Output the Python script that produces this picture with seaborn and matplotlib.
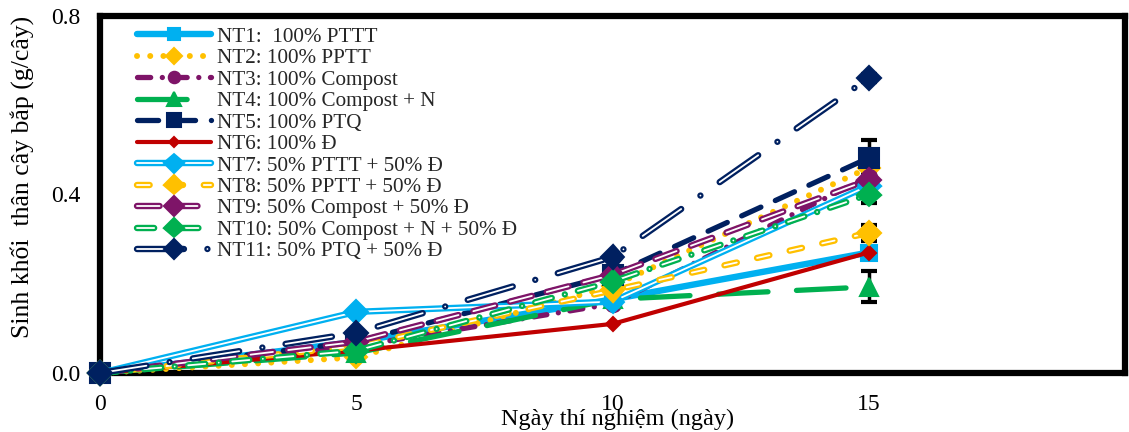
import numpy as np
import pandas as pd
import seaborn as sns
import matplotlib.pyplot as plt
import matplotlib.patheffects as pe
from matplotlib.ticker import FormatStrFormatter

# số liệu
days = [0, 5, 10, 15]
nt1 = [0, 0.07, 0.165, 0.27]
nt2 = [0, 0.035, 0.195, 0.46]
nt3 = [0, 0.06, 0.155, 0.44]
nt4 = [0, 0.045, 0.165, 0.193]
nt5 = [0, 0.07, 0.22, 0.482]
nt6 = [0, 0.05, 0.11, 0.27]
nt7 = [0, 0.137, 0.16, 0.42]
nt8 = [0, 0.06, 0.185, 0.314]
nt9 = [0, 0.07, 0.22, 0.433]
nt10 = [0, 0.05, 0.205, 0.40]
nt11 = [0, 0.09, 0.26, 0.661]
series = [nt1, nt2, nt3, nt4, nt5, nt6, nt7, nt8, nt9, nt10, nt11]

# sai số ở ngày 15
err15 = [0.01, 0.012, 0.01, 0.035, 0.04, 0.008, 0.01, 0.018, 0.01, 0.018, 0.01]

labels = ['NT1:  100% PTTT', 'NT2: 100% PPTT', 'NT3: 100% Compost',
          'NT4: 100% Compost + N', 'NT5: 100% PTQ', 'NT6: 100% Đ',
          'NT7: 50% PTTT + 50% Đ', 'NT8: 50% PPTT + 50% Đ',
          'NT9: 50% Compost + 50% Đ', 'NT10: 50% Compost + N + 50% Đ',
          'NT11: 50% PTQ + 50% Đ']

lblue, orange, purple = '#00B0F0', '#FFC000', '#7E1468'
green, navy, red = '#00B050', '#002060', '#C00000'

# kiểu đường: (màu, nét, độ dày, marker, cỡ marker, đường đôi?)
styles = [
    (lblue, '-', 4.6, 's', 12, False),
    (orange, (0, (0.01, 2.2)), 4.3, 'D', 11, False),
    (purple, (0, (2.5, 2.2, 0.01, 2.2)), 3.8, 'o', 11, False),
    (green, (0, (9.4, 5.4)), 3.8, '^', 13, False),
    (navy, (0, (4, 3)), 3.8, 's', 14, False),
    (red, '-', 3.0, 'D', 7, False),
    (lblue, '-', 1.3, 'D', 9, True),
    (orange, (0, (7, 11.5)), 1.3, 'D', 9, True),
    (purple, (0, (12.5, 8.5)), 1.3, 'D', 9, True),
    (green, (0, (9.5, 7.5, 0.01, 7.5)), 1.3, 'D', 9, True),
    (navy, (0, (26, 13, 0.01, 13)), 1.3, 'D', 9, True),
]

sns.set_theme(style='white')
plt.rcParams['font.family'] = ['Liberation Serif', 'DejaVu Serif']

fig = plt.figure(figsize=(11.29, 4.32), dpi=100)
ax = fig.add_axes([100 / 1129, 59 / 432, 1025 / 1129, 357 / 432])

x15 = [days[-1]] * len(series)
y15 = [s[-1] for s in series]
ax.errorbar(x15, y15, yerr=err15, fmt='none', ecolor='black',
            elinewidth=2.5, capsize=6, capthick=3, zorder=3)

for i, (vals, lab) in enumerate(zip(series, labels)):
    c, ls, lw, mk, ms, double = styles[i]
    df = pd.DataFrame({'day': days, 'val': vals})
    kw = dict(linestyle=ls, linewidth=lw, marker=mk, markersize=ms,
              markerfacecolor=c, markeredgecolor=c, markeredgewidth=1.5,
              dash_capstyle='round', solid_capstyle='round',
              clip_on=False, zorder=4 + i * 0.1)
    if double:
        kw['color'] = 'white'
        kw['path_effects'] = [pe.Stroke(linewidth=4.6, foreground=c), pe.Normal()]
    else:
        kw['color'] = c
    sns.lineplot(data=df, x='day', y='val', ax=ax, label=lab,
                 errorbar=None, **kw)

ax.set_xlim(0, 20)
ax.set_ylim(0, 0.8)
ax.set_xticks([0, 5, 10, 15])
ax.set_yticks([0, 0.4, 0.8])
ax.yaxis.set_major_formatter(FormatStrFormatter('%.1f'))
ax.tick_params(axis='both', length=0, labelsize=17, colors='black')
ax.tick_params(axis='x', pad=15)
ax.tick_params(axis='y', pad=14)

for s in ax.spines.values():
    s.set_linewidth(4.5)
    s.set_color('black')

ax.set_xlabel('Ngày thí nghiệm (ngày)', fontsize=17.5, color='black')
ax.set_ylabel('Sinh khối  thân cây bắp (g/cây)', fontsize=18.5, color='black')
ax.xaxis.set_label_coords(0.505, -0.1)
ax.yaxis.set_label_coords(-0.064, 0.55)

ax.legend(loc='upper left', bbox_to_anchor=(0.029, 0.99), frameon=False,
          fontsize=15.2, labelspacing=0.08, handlelength=3.5,
          handletextpad=0.27, borderaxespad=0, borderpad=0.35, numpoints=1,
          markerscale=0.75)

fig.savefig('out.png', dpi=100)
